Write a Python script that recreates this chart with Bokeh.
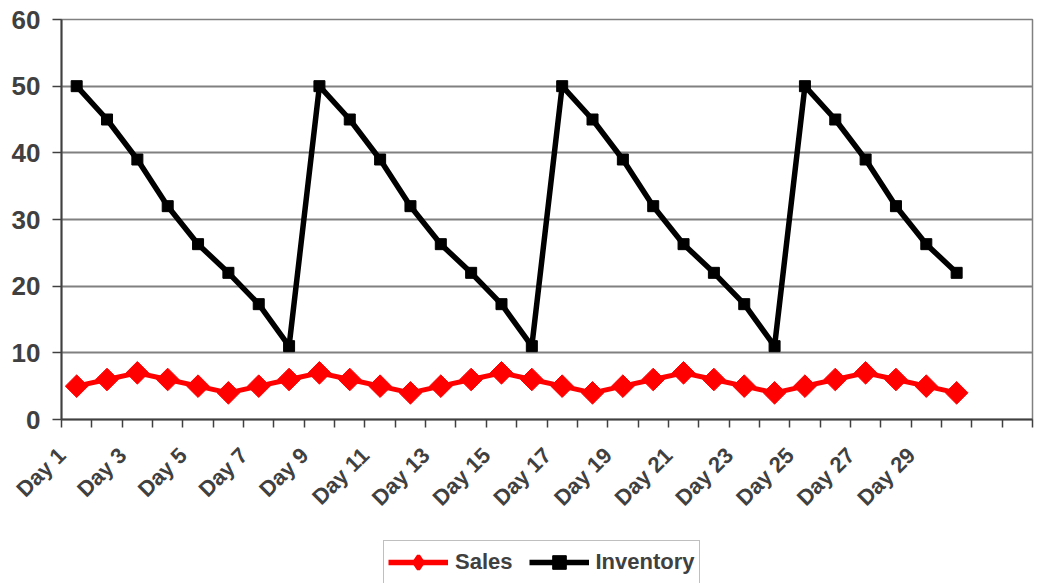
from math import pi
from bokeh.plotting import figure
from bokeh.layouts import column
from bokeh.models import FixedTicker, Legend, LegendItem, Range1d, ColumnDataSource
from bokeh.embed import file_html
from bokeh.resources import INLINE

days = list(range(1, 31))
sales = [5, 6, 7, 6, 5, 4, 5, 6, 7, 6, 5, 4, 5, 6, 7, 6, 5, 4, 5, 6, 7, 6, 5, 4, 5, 6, 7, 6, 5, 4]
inventory = [50, 45, 39, 32, 26.3, 22, 17.3, 11,
             50, 45, 39, 32, 26.3, 22, 17.3, 11,
             50, 45, 39, 32, 26.3, 22, 17.3, 11,
             50, 45, 39, 32, 26.3, 22]
n_categories = 32
label_days = list(range(1, 30, 2))
y_ticks = [0, 10, 20, 30, 40, 50, 60]

FONT = "Liberation Sans"
TXT = "#404040"
GRID = "#808080"
LABEL_SHIFT = 0.49  # rotated labels end slightly left of the category centre

src = ColumnDataSource(dict(day=days, sales=sales, inventory=inventory))

W = 1039
H_MAIN = 523
H_LEG = 60

p = figure(width=W, height=H_MAIN, output_backend="svg", toolbar_location=None,
           x_range=Range1d(0.5, n_categories + 0.5), y_range=Range1d(0, 60),
           min_border_left=61, min_border_right=7, min_border_top=19, min_border_bottom=104,
           background_fill_color="white", border_fill_color="white")

p.outline_line_color = GRID
p.outline_line_width = 1.5

p.xgrid.grid_line_color = None
p.ygrid.grid_line_color = GRID
p.ygrid.grid_line_width = 1.8
p.yaxis.ticker = FixedTicker(ticks=y_ticks)

boundaries = [i + 0.5 for i in range(0, n_categories + 1)]
label_pos = [d - LABEL_SHIFT for d in label_days]
p.xaxis.ticker = FixedTicker(ticks=label_pos, minor_ticks=boundaries)
p.xaxis.major_label_overrides = {pos: f"Day {d}" for pos, d in zip(label_pos, label_days)}
p.xaxis.major_label_orientation = pi / 4
p.xaxis.major_tick_line_color = None
p.xaxis.major_tick_out = 8
p.xaxis.major_tick_in = 0
p.xaxis.minor_tick_out = 8
p.xaxis.minor_tick_in = 0
p.xaxis.minor_tick_line_color = TXT
p.xaxis.minor_tick_line_width = 1.5
p.xaxis.major_label_standoff = 24

p.yaxis.major_tick_out = 9
p.yaxis.major_tick_in = 0
p.yaxis.minor_tick_line_color = None
p.yaxis.major_tick_line_color = TXT
p.yaxis.major_tick_line_width = 1.5
p.yaxis.major_label_standoff = 12

for ax in (p.xaxis, p.yaxis):
    ax.axis_line_color = TXT
    ax.axis_line_width = 2
    ax.major_label_text_font = FONT
    ax.major_label_text_font_style = "bold"
    ax.major_label_text_color = TXT
p.xaxis.major_label_text_font_size = "22px"
p.yaxis.major_label_text_font_size = "26px"

r_sales_l = p.line("day", "sales", source=src, line_color="#ff0000", line_width=5)
r_sales_m = p.scatter("day", "sales", source=src, marker="square", angle=pi / 4, size=16,
                      fill_color="#ff0000", line_color="#ff0000")
r_inv_l = p.line("day", "inventory", source=src, line_color="black", line_width=5.5)
r_inv_m = p.scatter("day", "inventory", source=src, marker="square", size=11,
                    fill_color="black", line_color="black")

# legend strip below the chart (same series, drawn outside its visible range)
q = figure(width=W, height=H_LEG, output_backend="svg", toolbar_location=None,
           x_range=Range1d(1000, 1001), y_range=Range1d(1000, 1001),
           x_axis_location=None, y_axis_location=None,
           min_border_left=0, min_border_right=0, min_border_top=0, min_border_bottom=0,
           background_fill_color="white", border_fill_color="white")
q.outline_line_color = None
q.grid.grid_line_color = None
q_sales_l = q.line("day", "sales", source=src, line_color="#ff0000", line_width=5.5)
q_sales_m = q.scatter("day", "sales", source=src, marker="diamond", size=16,
                      fill_color="#ff0000", line_color="#ff0000", line_width=3.5)
q_inv_l = q.line("day", "inventory", source=src, line_color="black", line_width=5.5)
q_inv_m = q.scatter("day", "inventory", source=src, marker="square", size=11,
                    fill_color="black", line_color="black")

legend = Legend(items=[LegendItem(label="Sales", renderers=[q_sales_l, q_sales_m]),
                       LegendItem(label="Inventory", renderers=[q_inv_l, q_inv_m])],
                orientation="horizontal", location=(322, -1),
                border_line_color=GRID, border_line_width=1.5,
                background_fill_color="white", background_fill_alpha=1,
                label_text_font=FONT, label_text_font_style="bold",
                label_text_font_size="22px", label_text_color=TXT,
                glyph_width=60, glyph_height=34, label_standoff=7, spacing=16,
                padding=4, margin=0)
q.add_layout(legend, "center")

layout = column(p, q, spacing=0)
open("out.html", "w").write(file_html(layout, INLINE))
